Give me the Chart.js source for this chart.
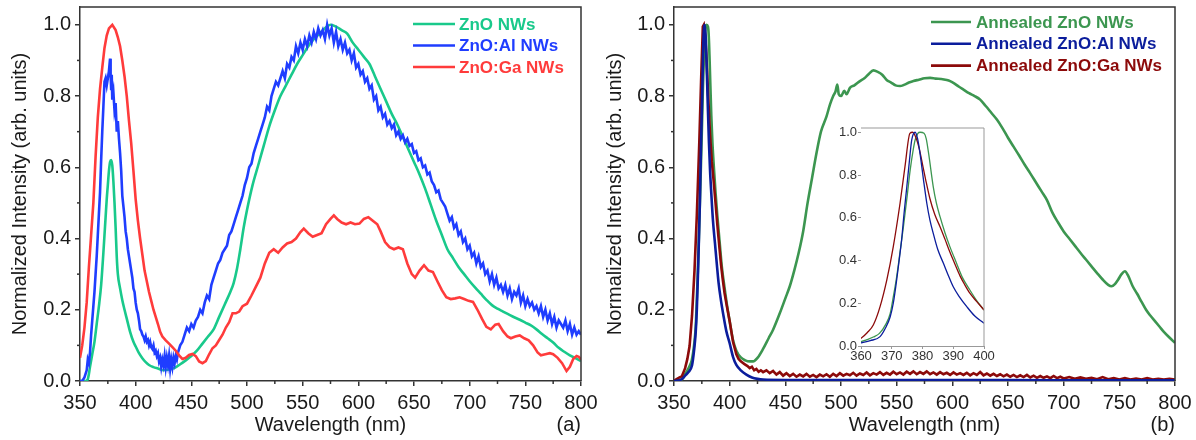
<!DOCTYPE html>
<html><head><meta charset="utf-8">
<script src="https://cdn.jsdelivr.net/npm/chart.js@4.4.1/dist/chart.umd.min.js"></script>
<style>
html,body{margin:0;padding:0;background:#fff}
body{width:1196px;height:440px;position:relative;overflow:hidden}
.panel{position:absolute}
</style></head><body>
<div class="panel" style="left:0;top:0;width:598px;height:440px"><canvas id="chartA"></canvas></div>
<div class="panel" style="left:598px;top:0;width:598px;height:440px"><canvas id="chartB"></canvas></div>
<div class="panel" style="left:820px;top:118px;width:180px;height:252px"><canvas id="chartInset"></canvas></div>
<script>
// ---------- text ----------
const xTitle = 'Wavelength (nm)';
const yTitle = 'Normalized Intensity (arb. units)';
const labelsA = ['ZnO NWs', 'ZnO:Al NWs', 'ZnO:Ga NWs'];
const labelsB = ['Annealed ZnO NWs', 'Annealed ZnO:Al NWs', 'Annealed ZnO:Ga NWs'];
const tagA = '(a)';
const tagB = '(b)';

// ---------- panel (a) data: [wavelength nm, normalized intensity] ----------
const znoNWs = [[350,0],[355,0],[357,0.005],[359,0.04],[361,0.075],[363,0.11],[365,0.16],[367,0.21],[369,0.27],[371,0.36],[372,0.41],[373,0.46],[374,0.51],[375,0.55],[376,0.59],[377,0.615],[378,0.62],[379,0.605],[380,0.56],[381,0.5],[382,0.43],[383,0.35],[384,0.3],[386,0.26],[388,0.227],[390,0.2],[392,0.175],[395,0.138],[398,0.11],[400,0.097],[403,0.078],[406,0.064],[409,0.053],[412,0.045],[416,0.039],[420,0.035],[425,0.03],[430,0.032],[435,0.037],[440,0.047],[445,0.058],[450,0.07],[455,0.085],[460,0.105],[465,0.125],[470,0.145],[475,0.18],[480,0.215],[485,0.25],[488,0.275],[491,0.315],[494,0.37],[497,0.43],[500,0.48],[505,0.55],[510,0.605],[515,0.66],[520,0.715],[525,0.76],[530,0.8],[535,0.83],[540,0.86],[545,0.89],[550,0.915],[555,0.94],[560,0.96],[565,0.975],[570,0.99],[575,1.0],[580,0.995],[585,0.985],[590,0.975],[595,0.95],[600,0.93],[605,0.91],[610,0.89],[615,0.855],[620,0.82],[625,0.785],[630,0.75],[635,0.72],[640,0.685],[645,0.65],[650,0.615],[655,0.58],[660,0.54],[665,0.495],[670,0.45],[675,0.41],[680,0.37],[685,0.345],[690,0.32],[695,0.3],[700,0.28],[705,0.262],[710,0.245],[715,0.228],[720,0.213],[725,0.203],[730,0.195],[735,0.187],[740,0.179],[745,0.172],[750,0.164],[755,0.156],[760,0.145],[765,0.132],[770,0.12],[775,0.108],[780,0.093],[785,0.082],[790,0.072],[795,0.064],[800,0.056]];

const znoAlNWs = [[350,0],[352,0],[354,0.01],[356,0.03],[357,0.06],[358,0.05],[359,0.08],[360,0.13],[361,0.17],[362,0.21],[363,0.25],[364,0.3],[365,0.35],[366,0.41],[367,0.47],[368,0.53],[369,0.62],[370,0.7],[371,0.77],[372,0.84],[373,0.85],[374,0.83],[375,0.85],[376,0.87],[377,0.905],[377.5,0.86],[378,0.82],[378.5,0.86],[379,0.79],[380,0.81],[381,0.76],[382,0.78],[383,0.7],[384,0.73],[385,0.68],[386,0.64],[387,0.59],[388,0.52],[389,0.49],[390,0.46],[391,0.42],[392,0.4],[393,0.37],[394,0.35],[395,0.33],[396,0.31],[397,0.29],[398,0.26],[399,0.25],[400,0.22],[401,0.2],[402,0.19],[403,0.17],[404,0.145],[405,0.14],[406,0.13],[407,0.125],[408,0.115],[409,0.125],[410,0.11],[411,0.115],[412,0.1],[413,0.11],[414,0.095],[415,0.09],[416,0.1],[417,0.08],[418,0.085],[419,0.07],[420,0.078],[421,0.055],[422,0.065],[423,0.04],[424,0.06],[425,0.045],[426,0.07],[427,0.04],[428,0.065],[429,0.045],[430,0.07],[431,0.035],[432,0.06],[433,0.04],[434,0.065],[435,0.05],[436,0.07],[437,0.06],[438,0.08],[440,0.1],[442,0.11],[444,0.13],[446,0.15],[448,0.14],[450,0.16],[452,0.15],[454,0.17],[456,0.18],[458,0.2],[460,0.19],[462,0.22],[464,0.24],[466,0.23],[468,0.27],[470,0.29],[472,0.31],[474,0.33],[476,0.34],[478,0.36],[480,0.37],[482,0.38],[484,0.41],[486,0.42],[488,0.44],[490,0.46],[492,0.48],[494,0.5],[496,0.52],[498,0.55],[500,0.57],[502,0.6],[504,0.61],[506,0.64],[508,0.66],[510,0.68],[512,0.7],[514,0.72],[516,0.74],[518,0.77],[520,0.76],[522,0.8],[524,0.82],[526,0.84],[528,0.83],[530,0.85],[532,0.87],[534,0.85],[536,0.89],[538,0.88],[540,0.91],[542,0.9],[544,0.94],[546,0.92],[548,0.95],[550,0.93],[552,0.96],[554,0.94],[556,0.97],[558,0.95],[560,0.98],[562,0.96],[564,0.99],[566,0.97],[568,0.985],[570,0.96],[572,1.0],[574,0.97],[576,0.99],[578,0.95],[580,0.98],[582,0.94],[584,0.96],[586,0.93],[588,0.95],[590,0.92],[592,0.93],[594,0.9],[596,0.92],[598,0.88],[600,0.89],[602,0.86],[604,0.87],[606,0.84],[608,0.85],[610,0.82],[612,0.83],[614,0.79],[616,0.8],[618,0.76],[620,0.77],[622,0.74],[624,0.75],[626,0.72],[628,0.73],[630,0.71],[632,0.72],[634,0.69],[636,0.7],[638,0.68],[640,0.69],[642,0.67],[644,0.68],[646,0.66],[648,0.665],[650,0.64],[652,0.645],[654,0.62],[656,0.625],[658,0.6],[660,0.605],[662,0.58],[664,0.585],[666,0.56],[668,0.55],[670,0.53],[672,0.535],[674,0.51],[676,0.5],[678,0.49],[680,0.47],[682,0.45],[684,0.46],[686,0.43],[688,0.44],[690,0.41],[692,0.42],[694,0.39],[696,0.4],[698,0.37],[700,0.38],[702,0.35],[704,0.36],[706,0.33],[708,0.35],[710,0.32],[712,0.33],[714,0.3],[716,0.31],[718,0.28],[720,0.3],[722,0.27],[724,0.29],[726,0.26],[728,0.27],[730,0.25],[732,0.27],[734,0.24],[736,0.26],[738,0.23],[740,0.25],[742,0.24],[744,0.26],[746,0.22],[748,0.24],[750,0.21],[752,0.23],[754,0.21],[756,0.22],[758,0.2],[760,0.21],[762,0.19],[764,0.21],[766,0.18],[768,0.2],[770,0.17],[772,0.19],[774,0.16],[776,0.18],[778,0.15],[780,0.17],[782,0.16],[784,0.15],[786,0.17],[788,0.14],[790,0.16],[792,0.13],[794,0.15],[796,0.13],[798,0.14],[800,0.13]];

const znoGaNWs = [[350,0.065],[352,0.1],[354,0.15],[356,0.22],[358,0.32],[360,0.41],[362,0.5],[364,0.63],[366,0.74],[368,0.82],[370,0.88],[372,0.935],[374,0.97],[376,0.99],[379,1.0],[382,0.985],[384,0.965],[386,0.94],[388,0.9],[390,0.855],[392,0.8],[394,0.73],[396,0.667],[398,0.59],[400,0.51],[402,0.45],[404,0.4],[406,0.355],[408,0.31],[410,0.28],[412,0.25],[414,0.225],[416,0.2],[418,0.18],[420,0.16],[422,0.138],[424,0.125],[427,0.114],[430,0.105],[433,0.095],[436,0.085],[439,0.072],[442,0.062],[445,0.065],[448,0.073],[451,0.076],[454,0.07],[457,0.055],[460,0.05],[463,0.056],[466,0.075],[469,0.092],[472,0.1],[475,0.115],[478,0.13],[481,0.15],[484,0.165],[487,0.19],[490,0.19],[493,0.195],[496,0.21],[500,0.217],[504,0.24],[508,0.265],[512,0.29],[516,0.33],[520,0.36],[524,0.37],[528,0.36],[532,0.375],[536,0.386],[540,0.39],[544,0.4],[548,0.418],[551,0.428],[555,0.415],[559,0.405],[563,0.41],[567,0.415],[571,0.44],[575,0.455],[578,0.465],[581,0.455],[585,0.445],[589,0.44],[593,0.445],[597,0.44],[601,0.442],[605,0.455],[609,0.46],[613,0.45],[617,0.44],[620,0.42],[624,0.39],[628,0.376],[632,0.37],[636,0.375],[640,0.37],[644,0.33],[648,0.3],[651,0.29],[655,0.31],[659,0.325],[663,0.31],[667,0.306],[671,0.28],[675,0.255],[679,0.235],[683,0.23],[687,0.232],[691,0.235],[695,0.23],[699,0.225],[703,0.222],[707,0.2],[711,0.175],[715,0.152],[719,0.145],[723,0.158],[726,0.16],[730,0.14],[734,0.125],[737,0.12],[741,0.125],[745,0.128],[749,0.12],[753,0.114],[757,0.1],[761,0.08],[764,0.072],[768,0.075],[772,0.078],[775,0.075],[779,0.065],[783,0.05],[787,0.028],[790,0.04],[793,0.062],[796,0.07],[798,0.068],[800,0.06]];

// ---------- panel (b) data ----------
const annZnO = [[350,0],[355,0.002],[358,0.008],[360,0.02],[362,0.03],[364,0.042],[366,0.059],[368,0.1],[369.5,0.153],[370.5,0.23],[371.6,0.324],[372.7,0.44],[373.8,0.558],[375,0.7],[376,0.824],[377,0.92],[377.6,0.964],[378.5,0.995],[379.2,1.0],[380.5,0.995],[381.2,0.97],[382,0.9],[383.5,0.745],[384.5,0.67],[385.7,0.605],[387.3,0.53],[388.9,0.465],[391,0.39],[393,0.32],[395.4,0.262],[397.5,0.215],[400,0.168],[403,0.115],[406,0.085],[410,0.066],[414,0.058],[418,0.055],[421,0.055],[425,0.065],[430,0.09],[435,0.12],[439,0.144],[445,0.19],[450,0.232],[454,0.266],[458,0.31],[462,0.36],[466,0.42],[470,0.5],[474,0.57],[478,0.64],[482,0.7],[487,0.743],[490,0.775],[493,0.8],[495,0.812],[496.7,0.832],[498,0.805],[500,0.8],[503,0.815],[505,0.805],[508,0.823],[512,0.83],[517,0.842],[521,0.85],[525,0.862],[529,0.872],[533,0.868],[537,0.86],[541,0.845],[545,0.838],[549,0.83],[553,0.828],[557,0.832],[561,0.838],[565,0.842],[570,0.846],[575,0.85],[580,0.851],[585,0.849],[590,0.848],[595,0.845],[598,0.842],[602,0.835],[606,0.826],[610,0.818],[615,0.808],[620,0.8],[625,0.79],[630,0.772],[635,0.753],[640,0.734],[645,0.71],[650,0.683],[655,0.658],[660,0.633],[665,0.607],[670,0.583],[675,0.558],[680,0.533],[685,0.508],[690,0.472],[695,0.445],[700,0.42],[705,0.4],[710,0.38],[715,0.36],[720,0.341],[725,0.322],[730,0.303],[735,0.285],[740,0.27],[743,0.266],[746,0.272],[749,0.285],[752,0.3],[755,0.308],[758,0.295],[762,0.266],[766,0.245],[770,0.222],[774,0.2],[778,0.183],[782,0.168],[786,0.153],[790,0.138],[795,0.122],[800,0.107]];

const annZnOAl = [[350,0],[355,0.002],[358,0.008],[360,0.015],[363,0.025],[366.2,0.044],[368,0.085],[369.5,0.137],[370.5,0.2],[371.6,0.309],[372.4,0.4],[373.2,0.496],[374,0.62],[374.9,0.745],[375.7,0.86],[376.5,0.964],[377.6,1.0],[378.4,0.97],[379.2,0.9],[380.3,0.78],[381.4,0.668],[382.4,0.59],[383.5,0.527],[385,0.45],[386.8,0.387],[388.4,0.33],[390,0.277],[392,0.23],[394.4,0.184],[397,0.14],[400,0.106],[403,0.068],[406,0.045],[410,0.03],[415,0.018],[420,0.01],[425,0.006],[430,0.004],[450,0.003],[500,0.003],[600,0.003],[700,0.002],[800,0.002]];

const annZnOGa = [[350,0],[352,0.005],[355,0.01],[357,0.013],[360,0.036],[362,0.062],[364,0.098],[366.2,0.184],[368.4,0.309],[370.5,0.465],[372.7,0.668],[374.3,0.839],[375.9,0.995],[376.8,1.0],[378,0.97],[379,0.92],[380,0.85],[381,0.78],[382.4,0.69],[384,0.615],[385.7,0.558],[387.3,0.5],[388.9,0.44],[390.5,0.385],[392.2,0.328],[393.8,0.285],[395.4,0.247],[397.5,0.21],[400,0.168],[403,0.11],[406,0.075],[408,0.062],[410,0.055],[413,0.048],[416,0.042],[418,0.036],[420,0.04],[422,0.03],[424,0.034],[426,0.026],[428,0.03],[430,0.025],[433,0.03],[436,0.022],[439,0.028],[442,0.018],[445,0.025],[448,0.015],[451,0.022],[454,0.014],[457,0.02],[460,0.012],[463,0.018],[466,0.013],[469,0.02],[472,0.012],[475,0.017],[478,0.011],[481,0.018],[484,0.013],[487,0.019],[490,0.012],[493,0.02],[496,0.014],[499,0.022],[502,0.015],[505,0.02],[508,0.016],[511,0.023],[514,0.015],[517,0.021],[520,0.017],[523,0.024],[526,0.016],[529,0.022],[532,0.018],[535,0.025],[538,0.017],[541,0.023],[544,0.018],[547,0.026],[550,0.019],[553,0.024],[556,0.018],[559,0.026],[562,0.02],[565,0.027],[568,0.019],[571,0.025],[574,0.02],[577,0.027],[580,0.019],[583,0.024],[586,0.018],[589,0.025],[592,0.019],[595,0.023],[598,0.017],[601,0.024],[604,0.018],[607,0.022],[610,0.017],[613,0.023],[616,0.016],[619,0.022],[622,0.017],[625,0.025],[628,0.016],[631,0.021],[634,0.015],[637,0.02],[640,0.014],[643,0.019],[646,0.013],[649,0.018],[652,0.012],[655,0.017],[658,0.011],[661,0.016],[664,0.011],[667,0.017],[670,0.01],[673,0.015],[676,0.009],[679,0.014],[682,0.009],[685,0.013],[688,0.008],[691,0.014],[694,0.008],[697,0.012],[700,0.007],[705,0.011],[710,0.006],[715,0.01],[720,0.006],[725,0.009],[730,0.005],[735,0.011],[740,0.005],[745,0.008],[750,0.004],[755,0.008],[760,0.004],[765,0.007],[770,0.004],[775,0.008],[780,0.004],[785,0.006],[790,0.004],[795,0.006],[800,0.004]];

// ---------- colours ----------
const colA = ['#19c98b', '#1f3dff', '#ff3b3b'];
const colB = ['#3c9650', '#0b1d9c', '#8c0a0a'];

// ---------- helpers ----------
const FONT = "'Liberation Sans', Arial, Helvetica, sans-serif";
const toPts = arr => arr.map(p => ({x: p[0], y: p[1]}));

const minorTicks = {
  id: 'minorTicks',
  afterDraw(chart, args, o) {
    if (!o || !o.axes) return;
    const ctx = chart.ctx;
    ctx.save();
    ctx.strokeStyle = o.color; ctx.lineWidth = o.width;
    o.axes.forEach(a => {
      const sc = chart.scales[a.id];
      const majors = new Set(sc.ticks.map(t => Math.round(t.value / a.step)));
      const n0 = Math.ceil(sc.min / a.step - 1e-9), n1 = Math.floor(sc.max / a.step + 1e-9);
      for (let n = n0; n <= n1; n++) {
        if (majors.has(n)) continue;
        const p = sc.getPixelForValue(n * a.step);
        ctx.beginPath();
        if (sc.isHorizontal()) { ctx.moveTo(p, sc.top); ctx.lineTo(p, sc.top + a.len); }
        else { ctx.moveTo(sc.right, p); ctx.lineTo(sc.right - a.len, p); }
        ctx.stroke();
      }
    });
    ctx.restore();
  }
};

const frame = {
  id: 'frame',
  beforeDatasetsDraw(chart, args, o) {
    if (!o || !o.fill) return;
    const {left, top, right, bottom} = chart.chartArea;
    chart.ctx.save(); chart.ctx.fillStyle = o.fill;
    chart.ctx.fillRect(left, top, right - left, bottom - top);
    chart.ctx.restore();
  },
  afterDraw(chart, args, o) {
    if (!o || !o.color) return;
    const {left, top, right, bottom} = chart.chartArea;
    const ctx = chart.ctx;
    ctx.save(); ctx.strokeStyle = o.color; ctx.lineWidth = o.width;
    ctx.beginPath(); ctx.moveTo(left, top); ctx.lineTo(right, top); ctx.lineTo(right, bottom); ctx.stroke();
    ctx.restore();
  }
};

const seriesLegend = {
  id: 'seriesLegend',
  afterDraw(chart, args, o) {
    if (!o || !o.display) return;
    const ctx = chart.ctx;
    ctx.save();
    ctx.font = o.font; ctx.textBaseline = 'middle'; ctx.textAlign = 'left';
    chart.data.datasets.forEach((ds, i) => {
      const y = o.y + i * o.dy;
      ctx.strokeStyle = ds.borderColor; ctx.lineWidth = o.lineWidth;
      ctx.beginPath(); ctx.moveTo(o.x, y); ctx.lineTo(o.x + o.len, y); ctx.stroke();
      ctx.fillStyle = ds.borderColor;
      ctx.fillText(ds.label, o.x + o.len + o.gap, y + 1);
    });
    ctx.restore();
  }
};

const panelTag = {
  id: 'panelTag',
  afterDraw(chart, args, o) {
    if (!o || !o.text) return;
    const ctx = chart.ctx;
    ctx.save(); ctx.font = `20px ${FONT}`; ctx.fillStyle = '#1a1a1a';
    ctx.textAlign = 'right'; ctx.textBaseline = 'middle';
    ctx.fillText(o.text, chart.chartArea.right, o.y);
    ctx.restore();
  }
};

function mainScales(yAxisWidth, yTitlePad) {
  return {
    x: {
      type: 'linear', min: 350, max: 800,
      ticks: {stepSize: 50, autoSkip: false, includeBounds: false, padding: 5, maxRotation: 0,
              color: '#1a1a1a', font: {family: FONT, size: 20}, callback: v => String(v)},
      grid: {display: true, drawOnChartArea: false, drawTicks: true, tickLength: 5, color: '#333', lineWidth: 1.5},
      border: {display: true, color: '#333', width: 1.5},
      title: {display: true, text: xTitle, color: '#1a1a1a', font: {family: FONT, size: 20}, padding: {top: 0, bottom: 3}},
      afterFit: s => { s.height = 59; s.paddingLeft = 0; s.paddingRight = 0; }
    },
    y: {
      type: 'linear', min: 0, max: 1.05,
      ticks: {stepSize: 0.2, includeBounds: false, padding: 4, color: '#1a1a1a', font: {family: FONT, size: 20},
              callback: v => v.toFixed(1)},
      grid: {display: true, drawOnChartArea: false, drawTicks: true, tickLength: 5, color: '#333', lineWidth: 1.5},
      border: {display: true, color: '#333', width: 1.5},
      title: {display: true, text: yTitle, color: '#1a1a1a', font: {family: FONT, size: 20}, padding: {top: yTitlePad, bottom: 0}},
      afterFit: s => { s.width = yAxisWidth; s.paddingTop = 0; s.paddingBottom = 0; }
    }
  };
}

function ds(label, arr, color, width, order, smooth) {
  return {label, data: toPts(arr), borderColor: color, backgroundColor: color, borderWidth: width,
          pointRadius: 0, fill: false, order, tension: 0,
          cubicInterpolationMode: smooth ? 'monotone' : 'default'};
}

Chart.defaults.animation = false;
Chart.defaults.font.family = FONT;

// ---------- panel (a) ----------
new Chart(document.getElementById('chartA'), {
  type: 'line',
  data: {datasets: [
    ds(labelsA[0], znoNWs, colA[0], 2.6, 3, true),
    ds(labelsA[1], znoAlNWs, colA[1], 2.6, 2, false),
    ds(labelsA[2], znoGaNWs, colA[2], 2.6, 1, false)
  ]},
  options: {
    responsive: true, maintainAspectRatio: false, animation: false,
    layout: {padding: {top: 7, right: 17, left: 0, bottom: 0}},
    scales: mainScales(80, 8),
    plugins: {
      legend: {display: false}, tooltip: {enabled: false},
      minorTicks: {color: '#333', width: 1.5, axes: [{id: 'x', step: 25, len: 3}, {id: 'y', step: 0.1, len: 3}]},
      frame: {color: '#333', width: 1.5},
      seriesLegend: {display: true, x: 413, y: 24, dy: 21.5, len: 42, gap: 4, lineWidth: 2.6, font: `bold 17px ${FONT}`},
      panelTag: {text: tagA, y: 425}
    }
  },
  plugins: [minorTicks, frame, seriesLegend, panelTag]
});

// ---------- panel (b) ----------
new Chart(document.getElementById('chartB'), {
  type: 'line',
  data: {datasets: [
    ds(labelsB[0], annZnO, colB[0], 2.6, 3, true),
    ds(labelsB[1], annZnOAl, colB[1], 2.6, 1, true),
    ds(labelsB[2], annZnOGa, colB[2], 2.6, 2, false)
  ]},
  options: {
    responsive: true, maintainAspectRatio: false, animation: false,
    layout: {padding: {top: 7, right: 21, left: 0, bottom: 0}},
    scales: mainScales(76, 5),
    plugins: {
      legend: {display: false}, tooltip: {enabled: false},
      minorTicks: {color: '#333', width: 1.5, axes: [{id: 'x', step: 25, len: 3}, {id: 'y', step: 0.1, len: 3}]},
      frame: {color: '#333', width: 1.5},
      seriesLegend: {display: true, x: 333, y: 22, dy: 21.8, len: 40, gap: 5, lineWidth: 2.6, font: `bold 17px ${FONT}`},
      panelTag: {text: tagB, y: 425}
    }
  },
  plugins: [minorTicks, frame, seriesLegend, panelTag]
});

// ---------- inset of panel (b) ----------
new Chart(document.getElementById('chartInset'), {
  type: 'line',
  data: {datasets: [
    ds(labelsB[0], annZnO, colB[0], 1.3, 3, true),
    ds(labelsB[1], annZnOAl, colB[1], 1.3, 1, true),
    ds(labelsB[2], annZnOGa, colB[2], 1.3, 2, true)
  ]},
  options: {
    responsive: true, maintainAspectRatio: false, animation: false,
    layout: {padding: {top: 10, right: 16, left: 0, bottom: 0}},
    scales: {
      x: {
        type: 'linear', min: 360, max: 400,
        ticks: {stepSize: 10, autoSkip: false, includeBounds: false, padding: 0, maxRotation: 0,
                color: '#333', font: {family: FONT, size: 13}, callback: v => String(v)},
        grid: {display: true, drawOnChartArea: false, drawTicks: true, tickLength: 3, color: '#999', lineWidth: 1},
        border: {display: true, color: '#999', width: 1},
        afterFit: s => { s.height = 24; s.paddingLeft = 0; s.paddingRight = 0; }
      },
      y: {
        type: 'linear', min: 0, max: 1.02,
        ticks: {stepSize: 0.2, includeBounds: false, padding: 1, color: '#333', font: {family: FONT, size: 13},
                callback: v => v.toFixed(1)},
        grid: {display: true, drawOnChartArea: false, drawTicks: true, tickLength: 3, color: '#999', lineWidth: 1},
        border: {display: true, color: '#999', width: 1},
        afterFit: s => { s.width = 41; s.paddingTop = 0; s.paddingBottom = 0; }
      }
    },
    plugins: {
      legend: {display: false}, tooltip: {enabled: false},
      frame: {color: '#999', width: 1, fill: '#ffffff'}
    }
  },
  plugins: [frame]
});
</script>
</body></html>
